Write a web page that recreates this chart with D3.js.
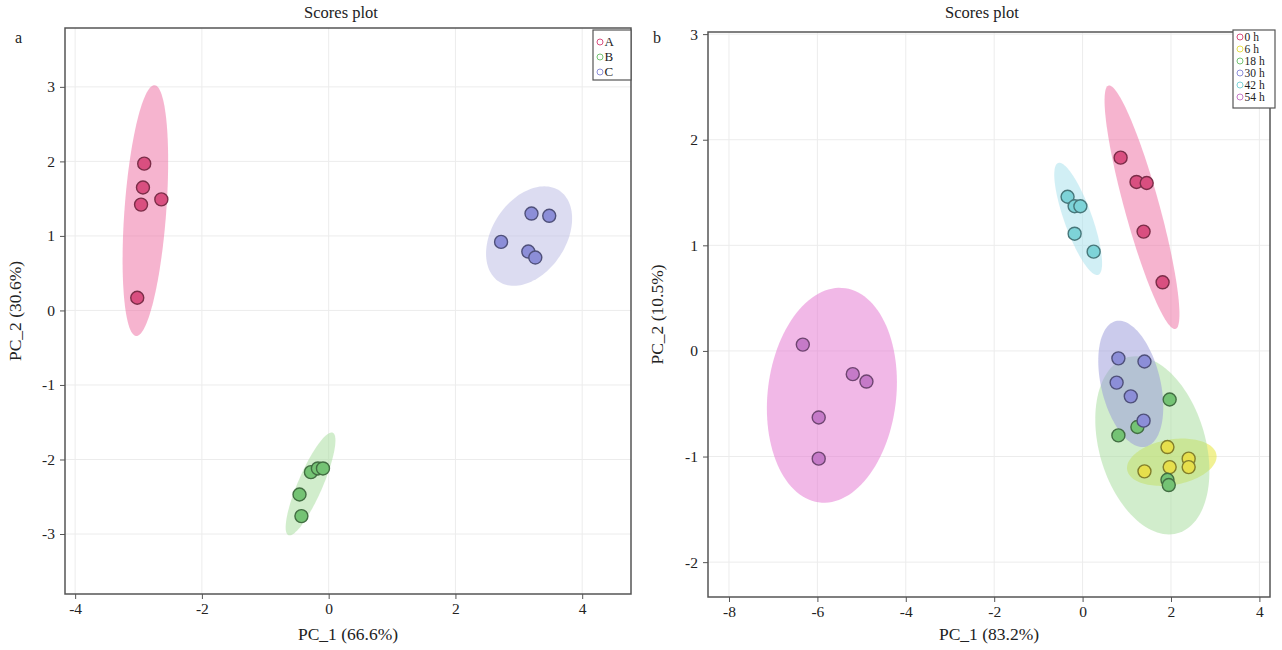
<!DOCTYPE html>
<html><head><meta charset="utf-8">
<script src="https://cdn.jsdelivr.net/npm/d3@7"></script>
<style>body{margin:0;background:#fff}svg{display:block}text{font-family:"Liberation Serif","DejaVu Serif",serif;fill:#222}</style>
</head><body><svg id="c" width="1282" height="650"></svg>
<script>
// ---- Panel a data ----
const groupsA = ["A", "B", "C"];
const A_x = [-2.91, -2.93, -2.96, -2.64, -3.02];
const A_y = [1.97, 1.65, 1.42, 1.49, 0.17];
const B_x = [-0.28, -0.17, -0.09, -0.46, -0.43];
const B_y = [-2.17, -2.12, -2.12, -2.47, -2.76];
const C_x = [3.20, 3.48, 2.72, 3.15, 3.26];
const C_y = [1.30, 1.27, 0.92, 0.79, 0.71];
const xTicksA = [-4, -2, 0, 2, 4];
const yTicksA = [-3, -2, -1, 0, 1, 2, 3];

// ---- Panel b data ----
const groupsB = ["0 h", "6 h", "18 h", "30 h", "42 h", "54 h"];
const h0_x = [0.86, 1.22, 1.45, 1.38, 1.81];
const h0_y = [1.83, 1.60, 1.59, 1.13, 0.65];
const h6_x = [1.92, 2.40, 2.40, 1.97, 1.40];
const h6_y = [-0.91, -1.02, -1.10, -1.10, -1.14];
const h18_x = [1.97, 1.24, 0.81, 1.92, 1.95];
const h18_y = [-0.46, -0.72, -0.80, -1.22, -1.27];
const h30_x = [0.81, 1.40, 0.77, 1.09, 1.38];
const h30_y = [-0.07, -0.10, -0.30, -0.43, -0.66];
const h42_x = [-0.34, -0.18, -0.05, -0.18, 0.25];
const h42_y = [1.46, 1.37, 1.37, 1.11, 0.94];
const h54_x = [-6.33, -5.20, -4.89, -5.97, -5.97];
const h54_y = [0.06, -0.22, -0.29, -0.63, -1.02];
const xTicksB = [-8, -6, -4, -2, 0, 2, 4];
const yTicksB = [-2, -1, 0, 1, 2, 3];

// ---- styles ----
const pointColA = ["#d94f80", "#74c374", "#8c8ed8"];
const ellColA = ["#ee6aa0", "#a3dc99", "#b9b9e3"];
const pointColB = ["#d94f80", "#e6df4c", "#74c374", "#8c8ed8", "#7dd3d8", "#c57ac8"];
const ellColB = ["#ee6aa0", "#e4e42a", "#a3dc99", "#9898da", "#a3e0ec", "#e372d0"];

const svg = d3.select("#c");
const K = Math.sqrt(5.991); // 95% chi-square, 2 df

function ellipsePath(xs, ys, sx, sy) {
  const n = xs.length;
  const mx = d3.mean(xs), my = d3.mean(ys);
  let sxx = 0, syy = 0, sxy = 0;
  for (let i = 0; i < n; i++) {
    sxx += (xs[i] - mx) ** 2; syy += (ys[i] - my) ** 2; sxy += (xs[i] - mx) * (ys[i] - my);
  }
  sxx /= n - 1; syy /= n - 1; sxy /= n - 1;
  const tr = sxx + syy, det = sxx * syy - sxy * sxy;
  const l1 = tr / 2 + Math.sqrt(tr * tr / 4 - det), l2 = tr / 2 - Math.sqrt(tr * tr / 4 - det);
  const th = 0.5 * Math.atan2(2 * sxy, sxx - syy);
  const a = K * Math.sqrt(l1), b = K * Math.sqrt(Math.max(l2, 0));
  const pts = d3.range(0, 361, 3).map(d => {
    const t = d * Math.PI / 180;
    const ex = a * Math.cos(t), ey = b * Math.sin(t);
    return [sx(mx + ex * Math.cos(th) - ey * Math.sin(th)), sy(my + ex * Math.sin(th) + ey * Math.cos(th))];
  });
  return d3.line().curve(d3.curveLinearClosed)(pts);
}

function panel(cfg) {
  const g = svg.append("g");
  const sx = d3.scaleLinear().domain(cfg.xd).range([cfg.l, cfg.r]);
  const sy = d3.scaleLinear().domain(cfg.yd).range([cfg.b, cfg.t]);
  // grid
  g.selectAll(".gx").data(cfg.xt).join("line").attr("x1", d => sx(d)).attr("x2", d => sx(d))
    .attr("y1", cfg.t).attr("y2", cfg.b).attr("stroke", "#ececec").attr("stroke-width", 1);
  g.selectAll(".gy").data(cfg.yt).join("line").attr("y1", d => sy(d)).attr("y2", d => sy(d))
    .attr("x1", cfg.l).attr("x2", cfg.r).attr("stroke", "#ececec").attr("stroke-width", 1);
  // ellipses
  cfg.series.forEach((s, i) => {
    g.append("path").attr("d", ellipsePath(s[0], s[1], sx, sy)).attr("fill", cfg.ecol[i]).attr("fill-opacity", 0.5);
  });
  // points
  cfg.series.forEach((s, i) => {
    const st = d3.color(cfg.pcol[i]).darker(1.6);
    s[0].forEach((x, j) => {
      g.append("circle").attr("cx", sx(x)).attr("cy", sy(s[1][j])).attr("r", 6.5)
        .attr("fill", cfg.pcol[i]).attr("stroke", st).attr("stroke-width", 1.4);
    });
  });
  // frame
  g.append("rect").attr("x", cfg.l).attr("y", cfg.t).attr("width", cfg.r - cfg.l).attr("height", cfg.b - cfg.t)
    .attr("fill", "none").attr("stroke", "#555").attr("stroke-width", 1.5);
  // axes
  const fmt = d => String(d);
  const ax = g.append("g").attr("transform", `translate(0,${cfg.b})`)
    .call(d3.axisBottom(sx).tickValues(cfg.xt).tickFormat(fmt).tickSize(5).tickPadding(4));
  const ay = g.append("g").attr("transform", `translate(${cfg.l},0)`)
    .call(d3.axisLeft(sy).tickValues(cfg.yt).tickFormat(fmt).tickSize(5).tickPadding(5));
  [ax, ay].forEach(a => {
    a.select(".domain").remove();
    a.selectAll("line").attr("stroke", "#555");
    a.selectAll("text").style("font-size", "15.5px").attr("fill", "#222").style("font-family", "Liberation Serif");
  });
  // titles
  g.append("text").attr("x", (cfg.l + cfg.r) / 2 - 7).attr("y", 18).attr("text-anchor", "middle")
    .style("font-size", "16.5px").text("Scores plot");
  g.append("text").attr("x", (cfg.l + cfg.r) / 2).attr("y", 640).attr("text-anchor", "middle")
    .style("font-size", "17.5px").text(cfg.xlab);
  g.append("text").attr("transform", `translate(${cfg.ylx},${(cfg.t + cfg.b) / 2}) rotate(-90)`)
    .attr("text-anchor", "middle").style("font-size", "17.5px").text(cfg.ylab);
  g.append("text").attr("x", cfg.tagx).attr("y", cfg.tagy).style("font-size", "16px").text(cfg.tag);
  // legend
  const lg = g.append("g");
  lg.append("rect").attr("x", cfg.lx).attr("y", cfg.ly).attr("width", cfg.lw).attr("height", cfg.lh)
    .attr("fill", "#fff").attr("stroke", "#555").attr("stroke-width", 1.2);
  cfg.names.forEach((nm, i) => {
    const yy = cfg.ly + cfg.lpad + i * cfg.lstep;
    lg.append("circle").attr("cx", cfg.lx + 7).attr("cy", yy).attr("r", 3)
      .attr("fill", "none").attr("stroke", cfg.pcol[i]).attr("stroke-width", 1);
    lg.append("text").attr("x", cfg.lx + 11.5).attr("y", yy + 4).style("font-size", cfg.lfs).text(nm);
  });
}

panel({
  l: 65, r: 631, t: 28, b: 594, xd: [-4.16, 4.77], yd: [-3.805, 3.79], xt: xTicksA, yt: yTicksA,
  series: [[A_x, A_y], [B_x, B_y], [C_x, C_y]], pcol: pointColA, ecol: ellColA, names: groupsA,
  xlab: "PC_1 (66.6%)", ylab: "PC_2 (30.6%)", ylx: 21, tag: "a", tagx: 15, tagy: 43,
  lx: 593, ly: 30, lw: 38, lh: 50, lpad: 12, lstep: 15, lfs: "13px"
});
panel({
  l: 708, r: 1270, t: 32, b: 597, xd: [-8.475, 4.24], yd: [-2.33, 3.02], xt: xTicksB, yt: yTicksB,
  series: [[h0_x, h0_y], [h6_x, h6_y], [h18_x, h18_y], [h30_x, h30_y], [h42_x, h42_y], [h54_x, h54_y]],
  pcol: pointColB, ecol: ellColB, names: groupsB,
  xlab: "PC_1 (83.2%)", ylab: "PC_2 (10.5%)", ylx: 663, tag: "b", tagx: 653, tagy: 43,
  lx: 1233, ly: 30, lw: 42, lh: 78, lpad: 7, lstep: 12, lfs: "11.5px"
});
</script></body></html>
